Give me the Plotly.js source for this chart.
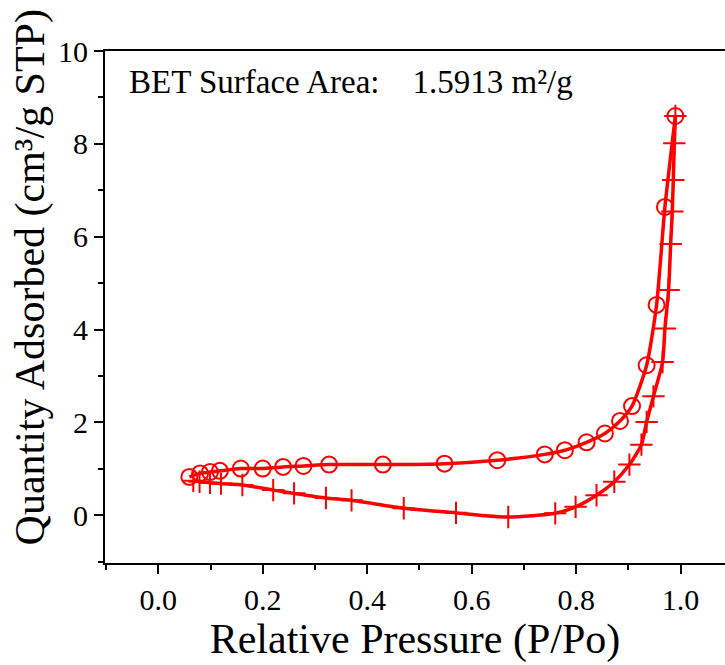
<!DOCTYPE html>
<html>
<head>
<meta charset="utf-8">
<script src="https://cdn.plot.ly/plotly-3.0.1.min.js"></script>
<style>html,body{margin:0;padding:0;background:#fff;}#chart{width:725px;height:665px;}</style>
</head>
<body>
<div id="chart"></div>
<script>
// Adsorption branch (plus markers)
const adsP = [0.067, 0.079, 0.099, 0.120, 0.161, 0.220, 0.260, 0.321, 0.370, 0.470, 0.570, 0.670, 0.760, 0.799, 0.839, 0.873, 0.902, 0.925, 0.935, 0.948, 0.9655, 0.970, 0.977, 0.981, 0.984, 0.986, 0.988, 0.990];
const adsQ = [0.74, 0.72, 0.70, 0.68, 0.65, 0.54, 0.47, 0.37, 0.32, 0.15, 0.05, -0.04, 0.04, 0.18, 0.43, 0.72, 1.09, 1.52, 2.01, 2.56, 3.30, 4.02, 4.85, 5.84, 6.54, 7.22, 8.01, 8.60];
// Desorption branch (open circles)
const desP = [0.990, 0.970, 0.954, 0.935, 0.907, 0.884, 0.855, 0.820, 0.7785, 0.740, 0.649, 0.548, 0.430, 0.327, 0.278, 0.239, 0.200, 0.158, 0.118, 0.099, 0.080, 0.0595];
const desQ = [8.60, 6.64, 4.53, 3.23, 2.35, 2.03, 1.76, 1.57, 1.40, 1.31, 1.185, 1.11, 1.09, 1.09, 1.06, 1.04, 1.005, 1.005, 0.955, 0.93, 0.90, 0.825];
const xTicks = [0.0, 0.2, 0.4, 0.6, 0.8, 1.0];
const xTickText = ["0.0", "0.2", "0.4", "0.6", "0.8", "1.0"];
const yTicks = [0, 2, 4, 6, 8, 10];
const yTickText = ["0", "2", "4", "6", "8", "10"];

const red = '#ff0000';
const FONT = 'Liberation Serif, Times New Roman, serif';

const traces = [
  {
    x: adsP, y: adsQ, type: 'scatter', mode: 'lines+markers', name: 'Adsorption',
    line: {color: red, width: 3.5, shape: 'spline', smoothing: 0.6},
    marker: {symbol: 'cross-thin-open', size: 16, color: red, line: {color: red, width: 2}}
  },
  {
    x: desP, y: desQ, type: 'scatter', mode: 'lines+markers', name: 'Desorption',
    line: {color: red, width: 3.5, shape: 'spline', smoothing: 0.6},
    marker: {symbol: 'circle-open', size: 16, color: red, line: {color: red, width: 2}}
  }
];

const layout = {
  width: 725, height: 665,
  margin: {l: 105, r: 0, t: 51, b: 102, pad: 0},
  paper_bgcolor: '#fff', plot_bgcolor: '#fff',
  showlegend: false,
  font: {family: FONT, color: '#000'},
  xaxis: {
    range: [-0.102, 1.085],
    tickmode: 'array', tickvals: xTicks, ticktext: xTickText,
    ticks: 'outside', ticklen: 9, tickwidth: 2, tickcolor: '#000',
    minor: {dtick: 0.1, tick0: 0, ticks: 'outside', ticklen: 5, tickwidth: 2, tickcolor: '#000', showgrid: false},
    showline: true, linecolor: '#000', linewidth: 2, mirror: true,
    showgrid: false, zeroline: false,
    tickfont: {family: FONT, size: 30, color: '#000'},
    title: {text: 'Relative Pressure (P/Po)', font: {family: FONT, size: 42, color: '#000'}, standoff: 6}
  },
  yaxis: {
    range: [-1.03, 10],
    tickmode: 'array', tickvals: yTicks, ticktext: yTickText,
    ticks: 'outside', ticklen: 9, tickwidth: 2, tickcolor: '#000',
    minor: {dtick: 1, tick0: 0, ticks: 'outside', ticklen: 5, tickwidth: 2, tickcolor: '#000', showgrid: false},
    showline: true, linecolor: '#000', linewidth: 2, mirror: false,
    showgrid: false, zeroline: false,
    tickfont: {family: FONT, size: 30, color: '#000'}
  },
  annotations: [
    {
      text: 'BET Surface Area:&nbsp;&nbsp;&nbsp;&nbsp;1.5913 m²/g',
      xref: 'paper', yref: 'paper', x: 0.035, y: 0.94, xanchor: 'left', yanchor: 'middle',
      showarrow: false, font: {family: FONT, size: 33, color: '#000'}
    },
    {
      text: 'Quantity Adsorbed (cm³/g STP)',
      xref: 'paper', yref: 'paper', x: -0.12, y: 0.557, xanchor: 'center', yanchor: 'middle',
      textangle: -90, showarrow: false, font: {family: FONT, size: 42, color: '#000'}
    }
  ]
};

Plotly.newPlot('chart', traces, layout, {staticPlot: true, displayModeBar: false});
</script>
</body>
</html>
